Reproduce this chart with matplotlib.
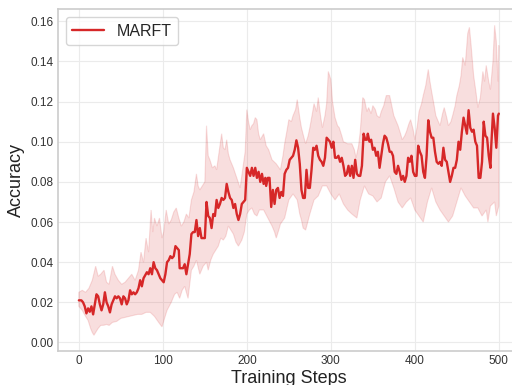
import numpy as np
import matplotlib
matplotlib.use("Agg")
import matplotlib.pyplot as plt

# mean accuracy
steps = [0, 3, 5, 7, 9, 11, 13, 15, 17, 19, 21, 23, 25, 27, 29, 31, 33, 35, 37, 39,
         41, 43, 45, 47, 49, 51, 53, 55, 57, 59, 61, 63, 65, 67, 69, 71, 73, 75, 77, 79,
         81, 83, 85, 87, 89, 91, 93, 95, 97, 99, 101, 103, 105, 107, 109, 111, 113, 115, 117, 119,
         120, 122, 124, 126, 128, 130, 132, 134, 136, 138, 140, 142, 144, 146, 148, 150, 152, 154, 156, 158,
         160, 162, 164, 166, 168, 170, 172, 174, 176, 178, 180, 182, 184, 186, 188, 190, 192, 194, 196, 198,
         200, 202, 204, 206, 208, 210, 212, 214, 216, 218, 220, 222, 223, 225, 227, 229, 231, 233, 235, 237,
         239, 241, 243, 245, 247, 249, 251, 253, 255, 257, 259, 261, 263, 265, 267, 269, 271, 273, 275, 277,
         279, 281, 283, 285, 287, 289, 291, 293, 295, 297, 299, 301, 303, 305, 307, 309, 311, 313, 315, 317,
         319, 321, 323, 325, 327, 329, 331, 333, 335, 337, 339, 341, 343, 344, 346, 348, 350, 352, 354, 356,
         358, 360, 362, 364, 366, 368, 370, 372, 374, 376, 378, 380, 382, 384, 386, 388, 390, 392, 394, 396,
         398, 400, 402, 404, 406, 408, 410, 412, 414, 416, 418, 420, 422, 424, 426, 428, 430, 432, 434, 436,
         438, 440, 442, 444, 446, 448, 450, 452, 454, 456, 458, 460, 462, 464, 466, 468, 470, 472, 474, 476,
         478, 480, 482, 484, 486, 488, 490, 491, 493, 495, 497, 499, 500]
acc_mean = [0.021, 0.021, 0.020, 0.018, 0.0145, 0.017, 0.0153, 0.018, 0.014, 0.019, 0.024, 0.023, 0.019, 0.016, 0.019, 0.025, 0.020, 0.018, 0.015, 0.019,
            0.021, 0.023, 0.022, 0.023, 0.022, 0.019, 0.023, 0.022, 0.019, 0.021, 0.026, 0.024, 0.025, 0.024, 0.025, 0.027, 0.031, 0.028, 0.032, 0.0335,
            0.035, 0.034, 0.037, 0.034, 0.040, 0.037, 0.036, 0.034, 0.032, 0.031, 0.030, 0.034, 0.040, 0.041, 0.043, 0.042, 0.043, 0.048, 0.047, 0.046,
            0.037, 0.037, 0.037, 0.039, 0.034, 0.039, 0.044, 0.054, 0.055, 0.055, 0.061, 0.053, 0.057, 0.052, 0.052, 0.052, 0.070, 0.063, 0.062, 0.057,
            0.064, 0.063, 0.071, 0.067, 0.069, 0.072, 0.071, 0.072, 0.079, 0.075, 0.072, 0.071, 0.067, 0.069, 0.064, 0.061, 0.064, 0.069, 0.070, 0.071,
            0.087, 0.085, 0.083, 0.087, 0.083, 0.087, 0.082, 0.085, 0.080, 0.084, 0.079, 0.082, 0.078, 0.082, 0.082, 0.0675, 0.076, 0.069, 0.076, 0.077,
            0.072, 0.075, 0.073, 0.084, 0.086, 0.087, 0.091, 0.092, 0.093, 0.096, 0.1007, 0.097, 0.089, 0.076, 0.072, 0.072, 0.086, 0.077, 0.077, 0.086,
            0.097, 0.096, 0.098, 0.093, 0.091, 0.090, 0.088, 0.092, 0.102, 0.101, 0.100, 0.097, 0.100, 0.092, 0.092, 0.093, 0.090, 0.092, 0.088, 0.083,
            0.084, 0.088, 0.083, 0.088, 0.082, 0.091, 0.084, 0.083, 0.083, 0.088, 0.104, 0.101, 0.101, 0.104, 0.100, 0.101, 0.096, 0.097, 0.093, 0.095,
            0.087, 0.093, 0.099, 0.103, 0.102, 0.099, 0.095, 0.095, 0.093, 0.085, 0.084, 0.088, 0.085, 0.081, 0.083, 0.080, 0.083, 0.092, 0.090, 0.093,
            0.085, 0.083, 0.083, 0.098, 0.095, 0.093, 0.085, 0.082, 0.093, 0.1107, 0.105, 0.102, 0.102, 0.095, 0.090, 0.089, 0.090, 0.088, 0.097, 0.091,
            0.090, 0.085, 0.080, 0.083, 0.087, 0.087, 0.091, 0.100, 0.096, 0.105, 0.112, 0.108, 0.104, 0.1157, 0.107, 0.105, 0.106, 0.100, 0.098, 0.082,
            0.082, 0.090, 0.110, 0.103, 0.102, 0.093, 0.087, 0.098, 0.114, 0.107, 0.097, 0.113, 0.114]

# upper edge of the shaded band
hi_steps = [0, 4, 8, 12, 16, 20, 23, 26, 30, 33, 36, 40, 43, 47, 51, 55, 59, 63, 67, 71,
            74, 77, 80, 83, 86, 88, 90, 93, 96, 99, 101, 104, 107, 110, 113, 116, 119, 122, 125, 128,
            131, 134, 137, 140, 142, 144, 147, 150, 152, 154, 156, 159, 162, 164, 167, 170, 172, 174, 176, 178,
            180, 184, 188, 192, 196, 198, 200, 202, 204, 206, 208, 210, 212, 214, 216, 220, 223, 226, 230, 235,
            240, 243, 245, 248, 250, 253, 255, 258, 260, 263, 265, 268, 270, 273, 275, 278, 280, 283, 285, 288,
            290, 293, 295, 297, 300, 302, 305, 308, 310, 313, 315, 320, 325, 328, 330, 333, 335, 338, 340, 343,
            345, 348, 350, 353, 355, 358, 360, 363, 366, 370, 372, 375, 378, 380, 383, 385, 388, 390, 393, 395,
            398, 400, 403, 405, 408, 410, 413, 416, 418, 420, 423, 425, 428, 430, 433, 435, 438, 440, 443, 445,
            448, 450, 453, 455, 457, 460, 463, 465, 467, 470, 473, 475, 478, 481, 483, 485, 488, 490, 493, 495,
            497, 499, 500]
acc_hi = [0.025, 0.026, 0.025, 0.027, 0.031, 0.038, 0.033, 0.034, 0.036, 0.030, 0.029, 0.038, 0.034, 0.031, 0.029, 0.030, 0.032, 0.034, 0.031, 0.036,
          0.045, 0.040, 0.052, 0.045, 0.066, 0.055, 0.062, 0.058, 0.062, 0.052, 0.055, 0.066, 0.059, 0.061, 0.065, 0.067, 0.062, 0.058, 0.060, 0.064,
          0.062, 0.071, 0.075, 0.084, 0.078, 0.076, 0.078, 0.080, 0.108, 0.093, 0.091, 0.087, 0.088, 0.086, 0.095, 0.104, 0.097, 0.096, 0.101, 0.094,
          0.091, 0.087, 0.082, 0.077, 0.089, 0.095, 0.116, 0.110, 0.106, 0.108, 0.109, 0.112, 0.111, 0.104, 0.101, 0.104, 0.098, 0.096, 0.091, 0.089,
          0.086, 0.093, 0.099, 0.106, 0.111, 0.110, 0.113, 0.116, 0.121, 0.112, 0.107, 0.102, 0.099, 0.103, 0.107, 0.114, 0.119, 0.115, 0.122, 0.112,
          0.107, 0.113, 0.119, 0.135, 0.131, 0.120, 0.112, 0.108, 0.107, 0.103, 0.100, 0.099, 0.099, 0.096, 0.092, 0.098, 0.105, 0.122, 0.121, 0.115,
          0.117, 0.114, 0.118, 0.116, 0.113, 0.112, 0.115, 0.118, 0.123, 0.123, 0.119, 0.113, 0.110, 0.108, 0.104, 0.101, 0.103, 0.105, 0.109, 0.111,
          0.106, 0.101, 0.108, 0.115, 0.119, 0.123, 0.128, 0.136, 0.130, 0.125, 0.118, 0.113, 0.110, 0.108, 0.114, 0.117, 0.112, 0.108, 0.110, 0.113,
          0.118, 0.123, 0.128, 0.133, 0.142, 0.138, 0.154, 0.157, 0.148, 0.133, 0.124, 0.117, 0.122, 0.135, 0.130, 0.138, 0.130, 0.126, 0.140, 0.158,
          0.150, 0.130, 0.148]

# lower edge of the shaded band
lo_steps = [0, 4, 8, 11, 14, 16, 18, 20, 23, 26, 30, 33, 36, 40, 45, 50, 55, 60, 65, 70,
            75, 80, 85, 90, 95, 99, 102, 105, 110, 114, 117, 120, 123, 126, 130, 134, 137, 140, 144, 148,
            152, 154, 157, 160, 163, 166, 169, 172, 175, 178, 181, 184, 187, 190, 194, 197, 200, 203, 206, 209,
            212, 215, 220, 225, 230, 233, 235, 238, 240, 245, 250, 255, 260, 263, 265, 267, 270, 275, 280, 285,
            290, 295, 300, 305, 310, 315, 320, 325, 328, 331, 335, 340, 345, 350, 355, 360, 365, 370, 375, 380,
            385, 390, 395, 400, 405, 410, 415, 420, 425, 430, 435, 440, 445, 450, 455, 460, 465, 470, 475, 480,
            485, 487, 490, 495, 497, 500]
acc_lo = [0.018, 0.016, 0.013, 0.011, 0.007, 0.005, 0.0036, 0.005, 0.007, 0.0085, 0.0086, 0.009, 0.0085, 0.010, 0.0105, 0.012, 0.0125, 0.013, 0.0135, 0.014,
          0.014, 0.015, 0.015, 0.013, 0.010, 0.0078, 0.012, 0.016, 0.020, 0.024, 0.025, 0.022, 0.026, 0.028, 0.022, 0.036, 0.038, 0.041, 0.034, 0.038,
          0.040, 0.036, 0.041, 0.044, 0.046, 0.048, 0.052, 0.051, 0.053, 0.058, 0.056, 0.054, 0.050, 0.048, 0.051, 0.055, 0.064, 0.066, 0.067, 0.064,
          0.063, 0.066, 0.066, 0.062, 0.058, 0.055, 0.052, 0.056, 0.059, 0.062, 0.071, 0.074, 0.071, 0.064, 0.061, 0.057, 0.056, 0.064, 0.071, 0.073,
          0.078, 0.078, 0.074, 0.071, 0.074, 0.069, 0.066, 0.064, 0.063, 0.062, 0.071, 0.078, 0.074, 0.073, 0.070, 0.072, 0.080, 0.083, 0.077, 0.070,
          0.067, 0.070, 0.072, 0.066, 0.063, 0.060, 0.070, 0.077, 0.070, 0.066, 0.063, 0.060, 0.063, 0.070, 0.077, 0.073, 0.070, 0.067, 0.067, 0.063,
          0.066, 0.060, 0.068, 0.070, 0.063, 0.068]

red = "#d62728"

plt.style.use("seaborn-v0_8-whitegrid")
plt.rcParams["font.family"] = ["Liberation Sans", "DejaVu Sans"]

fig = plt.figure(figsize=(5.12, 3.85), dpi=100)
ax = fig.add_axes([0.113, 0.088, 0.9023, 0.888])

band_x = np.concatenate([hi_steps, lo_steps[::-1]])
band_y = np.concatenate([acc_hi, acc_lo[::-1]])
ax.fill(band_x, band_y, color=red, alpha=0.15, linewidth=0.8)
ax.plot(steps, acc_mean, color=red, linewidth=1.7, label="MARFT")

ax.set_xlim(-25, 525)
ax.set_ylim(-0.0043, 0.166)
ax.set_xticks([0, 100, 200, 300, 400, 500])
ax.set_yticks([0.00, 0.02, 0.04, 0.06, 0.08, 0.10, 0.12, 0.14, 0.16])
ax.yaxis.set_major_formatter(matplotlib.ticker.FormatStrFormatter("%.2f"))
ax.tick_params(labelsize=8.5, colors="#333333", pad=3)
ax.grid(True, color="#ebebeb", linewidth=0.8)
for s in ax.spines.values():
    s.set_color("#cccccc")
    s.set_linewidth(1.2)

ax.set_xlabel("Training Steps", fontsize=13, color="#222222", labelpad=2)
ax.set_ylabel("Accuracy", fontsize=13, color="#222222", labelpad=4)
leg = ax.legend(loc="upper left", fontsize=11.5, frameon=True, fancybox=True)
leg.get_frame().set_edgecolor("#cccccc")

fig.savefig("out.png", dpi=100)
